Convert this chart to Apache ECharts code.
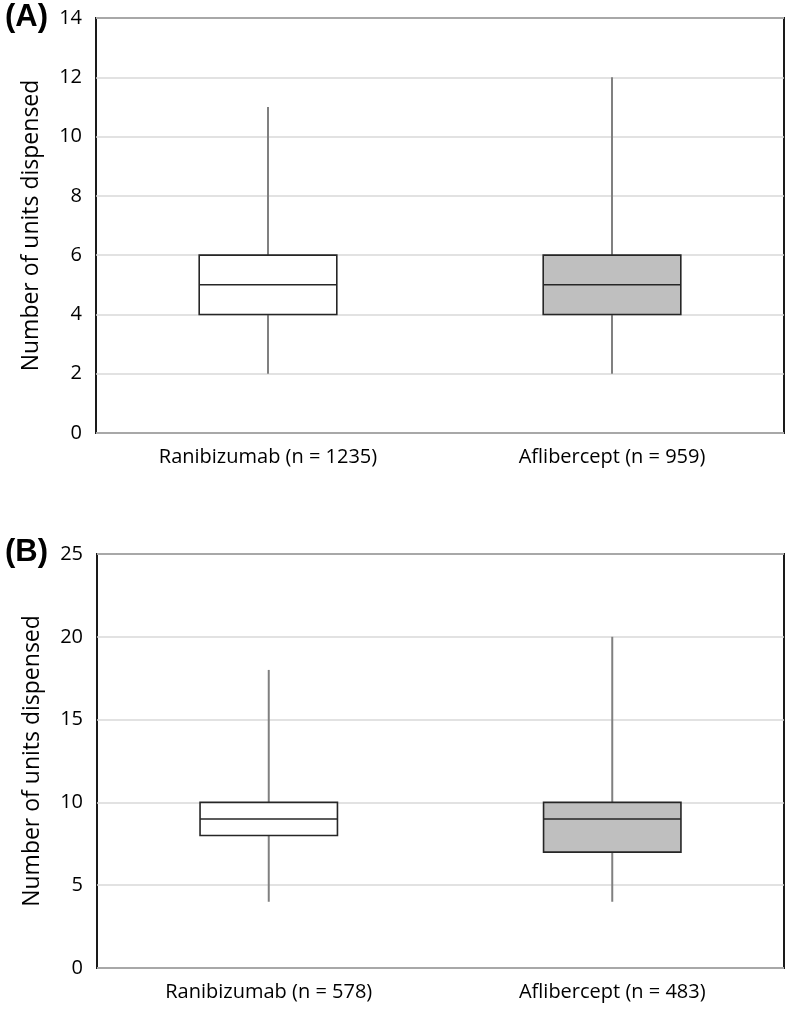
<!DOCTYPE html>
<html><head><meta charset="utf-8">
<script src="https://cdn.jsdelivr.net/npm/echarts@6/dist/echarts.min.js"></script>
<style>html,body{margin:0;padding:0;background:#fff}#c{width:786px;height:1009px}</style>
</head><body><div id="c"></div>
<script>
const categoriesA = ['Ranibizumab (n = 1235)', 'Aflibercept (n = 959)'];
const categoriesB = ['Ranibizumab (n = 578)', 'Aflibercept (n = 483)'];
// [min, q1, median, q3, max]
const boxA = [[2, 4, 5, 6, 11], [2, 4, 5, 6, 12]];
const boxB = [[4, 8, 9, 10, 18], [4, 7, 9, 10, 20]];
const fills = ['#ffffff', '#bfbfbf'];
const yTicksA = {min: 0, max: 14, interval: 2};
const yTicksB = {min: 0, max: 25, interval: 5};

const FONT = '"Open Sans", "Liberation Sans", sans-serif';

function renderBox(params, api) {
  const x = api.value(0);
  const lo = api.coord([x, api.value(1)]);
  const q1 = api.coord([x, api.value(2)]);
  const med = api.coord([x, api.value(3)]);
  const q3 = api.coord([x, api.value(4)]);
  const hi = api.coord([x, api.value(5)]);
  const bw = api.size([1, 0])[0] * 0.4;
  const cx = lo[0];
  return {
    type: 'group',
    children: [
      {type: 'line', shape: {x1: cx, y1: hi[1], x2: cx, y2: q3[1]}, style: {stroke: '#808080', lineWidth: 2}},
      {type: 'line', shape: {x1: cx, y1: q1[1], x2: cx, y2: lo[1]}, style: {stroke: '#808080', lineWidth: 2}},
      {type: 'rect', shape: {x: cx - bw / 2, y: q3[1], width: bw, height: q1[1] - q3[1]},
        style: {fill: fills[params.dataIndex], stroke: '#262626', lineWidth: 1.6}},
      {type: 'line', shape: {x1: cx - bw / 2, y1: med[1], x2: cx + bw / 2, y2: med[1]}, style: {stroke: '#262626', lineWidth: 1.6}}
    ]
  };
}

function toData(arr) { return arr.map((b, i) => [i].concat(b)); }

function xAxis(cats, gi) {
  return {type: 'category', gridIndex: gi, data: cats,
    axisLine: {show: false}, axisTick: {show: false},
    axisLabel: {color: '#000', fontSize: 20, fontFamily: FONT, margin: 14}};
}
function yAxis(t, gi) {
  return {type: 'value', gridIndex: gi, min: t.min, max: t.max, interval: t.interval,
    name: 'Number of units dispensed', nameLocation: 'middle', nameGap: 53,
    nameTextStyle: {color: '#000', fontSize: 23, fontFamily: FONT},
    axisLine: {show: false}, axisTick: {show: false},
    axisLabel: {color: '#000', fontSize: 20, fontFamily: FONT, margin: 14},
    splitLine: {lineStyle: {color: '#d9d9d9', width: 1.5}}};
}

const chart = echarts.init(document.getElementById('c'), null, {renderer: 'canvas'});
chart.setOption({
  animation: false,
  backgroundColor: '#fff',
  title: [
    {text: '(A)', left: 0, top: -3, textStyle: {fontSize: 31, fontWeight: 'bold', fontFamily: '"Liberation Sans", Arial, sans-serif', color: '#000'}},
    {text: '(B)', left: 0, top: 532, textStyle: {fontSize: 31, fontWeight: 'bold', fontFamily: '"Liberation Sans", Arial, sans-serif', color: '#000'}}
  ],
  grid: [
    {left: 96, top: 18, width: 688, height: 415, show: true, borderColor: '#1a1a1a', borderWidth: 2},
    {left: 97, top: 554, width: 687, height: 414, show: true, borderColor: '#1a1a1a', borderWidth: 2}
  ],
  xAxis: [xAxis(categoriesA, 0), xAxis(categoriesB, 1)],
  yAxis: [yAxis(yTicksA, 0), yAxis(yTicksB, 1)],
  series: [
    {type: 'custom', xAxisIndex: 0, yAxisIndex: 0, renderItem: renderBox, data: toData(boxA),
      encode: {x: 0, y: [1, 2, 3, 4, 5]}, z: 3},
    {type: 'custom', xAxisIndex: 1, yAxisIndex: 1, renderItem: renderBox, data: toData(boxB),
      encode: {x: 0, y: [1, 2, 3, 4, 5]}, z: 3}
  ]
});
</script></body></html>
